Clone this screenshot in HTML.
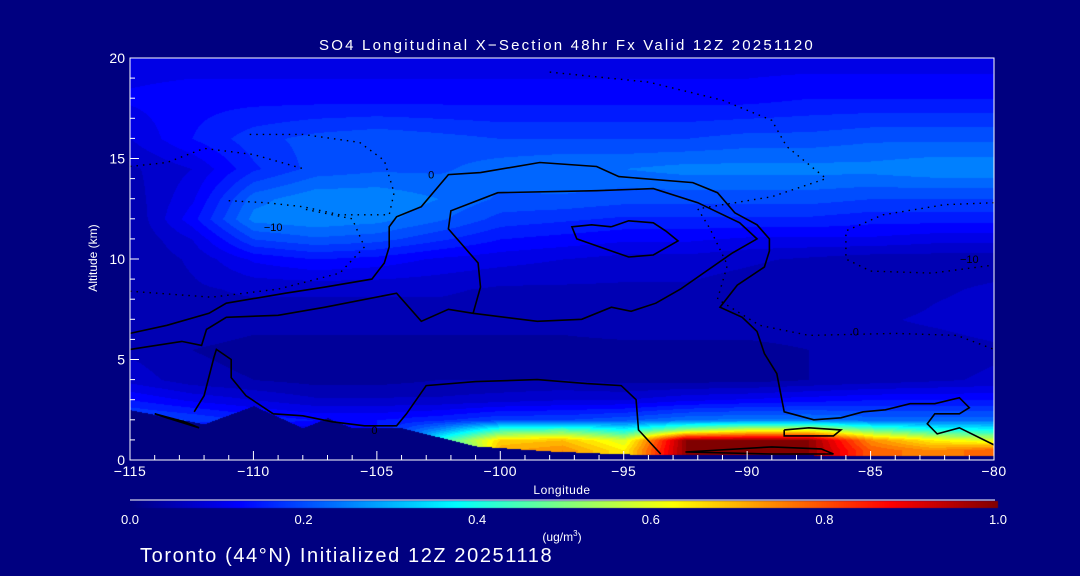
<!DOCTYPE html>
<html><head><meta charset="utf-8"><style>
html,body{margin:0;padding:0;background:#000080;}
#wrap{position:relative;width:1080px;height:576px;background:#000080;overflow:hidden;font-family:"Liberation Sans",sans-serif;color:#fff;}
canvas{position:absolute;left:0;top:0;}
svg{position:absolute;left:0;top:0;}
</style></head><body>
<div id="wrap">
<canvas id="heat" width="1080" height="576"></canvas>
<svg id="ov" width="1080" height="576"></svg>
</div>
<script>
// ---- data ----
const lons = [-115,-112.5,-110,-107.5,-105,-102.5,-100,-97.5,-95,-92.5,-90,-87.5,-85,-82.5,-80];
const alts = [0,0.5,1,1.5,2,3,4,5.5,7,8.5,10,11,12,13,14.5,16,18,20];
const r0   = [0,0,0,0,0,.30,.72,.75,.65,1.0,1.0,1.0,.80,.75,.80];
const r05  = [0,0,0,0,0,.30,.72,.75,.65,1.0,1.0,1.0,.80,.75,.80];
const r1   = [0,0,0,0,0,.42,.68,.70,.60,1.0,1.0,1.0,.75,.65,.60];
const r15  = [.10,.10,.10,.10,.15,.28,.45,.48,.40,.55,.62,.62,.50,.42,.40];
const r2   = [.22,.20,.17,.15,.15,.17,.20,.20,.22,.25,.26,.26,.24,.24,.24];
const r3   = [.15,.12,.10,.08,.08,.08,.09,.10,.10,.12,.13,.14,.15,.15,.15];
const r4   = [.09,.06,.05,.04,.04,.05,.05,.05,.04,.04,.04,.05,.06,.07,.08];
const r55  = [.07,.05,.04,.04,.04,.04,.04,.04,.04,.04,.04,.05,.06,.06,.07];
const r7   = [.07,.07,.06,.06,.06,.06,.06,.06,.07,.07,.07,.07,.07,.08,.09];
const r85  = [.06,.07,.08,.08,.08,.08,.07,.07,.07,.07,.06,.05,.05,.07,.08];
const r10  = [.05,.08,.13,.15,.14,.12,.11,.10,.09,.09,.08,.07,.06,.06,.06];
const r11  = [.05,.10,.20,.22,.21,.18,.15,.14,.13,.13,.12,.12,.12,.11,.11];
const r12  = [.05,.14,.26,.27,.26,.23,.19,.18,.17,.17,.17,.17,.16,.16,.16];
const r13  = [.06,.12,.24,.27,.27,.25,.22,.22,.21,.21,.21,.21,.20,.20,.20];
const r145 = [.07,.10,.17,.21,.22,.22,.24,.25,.25,.26,.26,.26,.26,.27,.27];
const r16  = [.10,.15,.19,.21,.22,.21,.20,.20,.20,.20,.21,.21,.22,.22,.22];
const r18  = [.13,.14,.14,.14,.14,.14,.14,.14,.14,.14,.14,.15,.15,.15,.15];
const r20  = [.11,.11,.11,.11,.11,.11,.11,.11,.11,.11,.11,.11,.11,.11,.11];
const grid = [r0,r05,r1,r15,r2,r3,r4,r55,r7,r85,r10,r11,r12,r13,r145,r16,r18,r20];
const terrainLon = [-115,-112,-110,-108,-107,-106,-105,-104,-103,-101,-98,-95,-80];
const terrainAlt = [2.5,1.8,2.7,1.6,2.1,1.6,1.6,1.6,1.3,0.7,0.45,0.3,0.2];
const xTickVals = [-115,-110,-105,-100,-95,-90,-85,-80];
const yTickVals = [0,5,10,15,20];
const cbarTicks = ["0.0","0.2","0.4","0.6","0.8","1.0"];
const contourA = [[-115,6.3],[-113.5,6.7],[-111.8,7.3],[-111.1,7.8],[-108.7,8.3],[-107.1,8.6],[-105.2,9.0],[-104.7,9.8],[-104.5,10.6],[-104.5,11.6],[-104.2,12.1],[-103.2,12.6],[-102.1,14.2],[-100.8,14.3],[-98.4,14.8],[-96.1,14.6],[-95.2,14.1],[-92.2,13.8],[-91.2,13.3],[-90.5,12.3],[-89.6,11.7],[-89.1,11.0],[-89.1,10.4],[-89.3,9.6],[-90.4,8.7],[-91.1,7.6],[-90.2,7.1],[-89.6,6.4],[-89.3,5.3],[-88.8,4.3],[-88.5,2.4],[-87.3,2.0],[-86.2,2.1],[-85.3,2.4],[-84.4,2.5],[-83.4,2.8],[-82.4,2.8],[-81.4,3.1],[-81.0,2.6],[-81.4,2.3],[-82.4,2.3],[-82.7,1.8],[-82.3,1.3],[-81.4,1.6],[-80,0.75]];
const contourB = [[-115,5.5],[-112.9,5.9],[-112.1,5.7],[-111.9,6.5],[-111.1,7.1],[-109.0,7.2],[-107.1,7.6],[-104.2,8.3],[-103.2,6.9],[-102.1,7.5],[-101.1,7.3],[-100.8,8.6],[-100.9,9.8],[-102.1,11.5],[-102.0,12.4],[-100.1,13.3],[-96.1,13.4],[-93.8,13.5],[-92.0,12.8],[-90.3,11.8],[-89.6,11.0],[-90.6,10.3],[-92.7,8.5],[-93.7,7.8],[-94.7,7.4],[-95.5,7.6],[-96.7,7.0],[-98.5,6.9],[-101.1,7.3]];
const contourC = [[-95.5,11.6],[-94.8,11.9],[-93.8,11.8],[-93.3,11.4],[-92.8,10.9],[-93.8,10.2],[-94.8,10.1],[-95.5,10.4],[-96.9,11.0],[-97.1,11.6],[-96.3,11.7],[-95.5,11.6]];
const contourD = [[-112.4,2.4],[-112,3.2],[-111.6,5.1],[-111.5,5.5],[-110.9,5.0],[-110.9,4.1],[-110.3,3.2],[-109.2,2.3],[-108,2.2],[-106.8,1.9],[-105.5,1.7],[-104.2,1.7],[-103.8,2.3],[-103.0,3.7],[-101,3.9],[-98.5,4.0],[-96.5,3.8],[-95.1,3.7],[-94.5,3.0],[-94.4,1.5],[-93.5,0.3]];
const contourE = [[-114,2.3],[-112.8,1.9],[-112.2,1.6],[-113.5,2.1],[-114,2.3]];
const contourF = [[-92.5,0.4],[-89,0.65],[-87,0.55],[-86.5,0.3],[-89,0.3],[-92.5,0.4]];
const contourG = [[-88.5,1.5],[-87.5,1.6],[-86.2,1.5],[-86.5,1.2],[-88.5,1.2],[-88.5,1.5]];
const dotted1 = [[-115,14.6],[-113.5,14.8],[-112,15.5],[-110,15.2],[-108,14.5]];
const dotted2 = [[-111,12.9],[-109.5,12.8],[-108,12.6],[-106.5,12.2],[-104.5,12.2],[-104.3,13.3],[-104.7,14.9],[-105.7,15.8],[-108,16.2],[-110.2,16.2]];
const dotted3 = [[-115,8.4],[-111.7,8.1],[-109,8.5],[-106.5,9.3],[-105.5,10.6],[-106,12.0],[-108,12.5]];
const dotted4 = [[-98,19.3],[-94,18.8],[-91,17.9],[-89,16.9],[-88.4,15.6],[-87.5,14.7],[-86.8,14.0],[-89,13.1],[-92,12.5],[-91.5,11.5],[-90.8,9.7],[-91.2,8.0],[-89.5,6.7],[-87.5,6.2],[-84,6.3],[-81.5,6.2],[-80,5.5]];
const dotted5 = [[-80,12.8],[-82,12.7],[-84.5,12.2],[-86,11.4],[-86,10.0],[-85,9.4],[-82.5,9.3],[-80,9.7]];

// ---- axes ----
const X0=130,X1=994,Y0=460,Y1=58;
const xs = l => X0 + (l+115)/35*(X1-X0);
const ys = a => Y0 - a/20*(Y0-Y1);
const lonOf = x => -115 + (x-X0)/(X1-X0)*35;
const altOf = y => (Y0-y)/(Y0-Y1)*20;
function jet(v){v=Math.max(0,Math.min(1,v));const c=t=>Math.round(255*Math.max(0,Math.min(1,1.5-Math.abs(t))));return [c(4*v-3),c(4*v-2),c(4*v-1)];}
function interp(arrX,arrY,x){for(let i=0;i<arrX.length-1;i++){if(x<=arrX[i+1]){const t=(x-arrX[i])/(arrX[i+1]-arrX[i]);return arrY[i]+t*(arrY[i+1]-arrY[i]);}}return arrY[arrY.length-1];}
function val(lon,alt){
  let i=0;while(i<lons.length-2&&lon>lons[i+1])i++;
  let j=0;while(j<alts.length-2&&alt>alts[j+1])j++;
  const tx=Math.max(0,Math.min(1,(lon-lons[i])/(lons[i+1]-lons[i])));
  const ty=Math.max(0,Math.min(1,(alt-alts[j])/(alts[j+1]-alts[j])));
  const a=grid[j][i]*(1-tx)+grid[j][i+1]*tx, b=grid[j+1][i]*(1-tx)+grid[j+1][i+1]*tx;
  return a*(1-ty)+b*ty;
}
const cv=document.getElementById('heat'),ctx=cv.getContext('2d');
ctx.fillStyle='#000080';ctx.fillRect(0,0,1080,576);
const img=ctx.getImageData(0,0,1080,576);
for(let y=Math.ceil(Y1);y<Y0;y++){for(let x=X0;x<X1;x++){
  const lon=lonOf(x),alt=altOf(y);
  const tAlt=interp(terrainLon,terrainAlt,lon);
  let rgb;
  if(alt<tAlt) rgb=[0,0,128];
  else {let v=val(lon,alt);v=Math.floor(v*40)/40;rgb=jet(v);}
  const k=(y*1080+x)*4;img.data[k]=rgb[0];img.data[k+1]=rgb[1];img.data[k+2]=rgb[2];img.data[k+3]=255;
}}
for(let y=501;y<508;y++)for(let x=130;x<998;x++){const rgb=jet((x-130)/868);const k=(y*1080+x)*4;img.data[k]=rgb[0];img.data[k+1]=rgb[1];img.data[k+2]=rgb[2];img.data[k+3]=255;}
ctx.putImageData(img,0,0);

const NS='http://www.w3.org/2000/svg',ov=document.getElementById('ov');
function mk(tag,attrs,name,parent){const e=document.createElementNS(NS,tag);for(const k in attrs)e.setAttribute(k,attrs[k]);


(parent||ov).appendChild(e);return e;}
function line(pts,name,dash,w){const d=pts.map((p,i)=>(i?'L':'M')+xs(p[0]).toFixed(1)+','+ys(p[1]).toFixed(1)).join('');
 const a={d:d,fill:'none',stroke:'#000','stroke-width':w||1.6};if(dash)a['stroke-dasharray']=dash;mk('path',a,name);}
line(contourA,'contour-zero-outer');line(contourB,'contour-zero-inner');line(contourC,'contour-zero-core');
line(contourD,'contour-zero-lower');line(contourE,'contour-zero-west');line(contourF,'contour-zero-surface');line(contourG,'contour-zero-surface-2');
[dotted1,dotted2,dotted3,dotted4,dotted5].forEach((c,i)=>line(c,'contour-minus10-'+(i+1),'1.5,5',1.4));
[[-102.8,14.2,'0'],[-109.2,11.6,'−10'],[-85.6,6.4,'0'],[-105.1,1.5,'0'],[-81,10,'−10']].forEach(l=>{const t=mk('text',{x:xs(l[0]),y:ys(l[1])+4,fill:'#000','font-size':11,'text-anchor':'middle'},'contour-label');t.textContent=l[2];});
mk('rect',{x:X0,y:Y1,width:X1-X0,height:Y0-Y1,fill:'none',stroke:'#fff','stroke-width':1},'plot-frame');
for(let l=-115;l<=-80;l++){const major=(l%5===0);mk('line',{x1:xs(l),x2:xs(l),y1:Y0,y2:Y0-(major?9:5),stroke:'#fff','stroke-width':1},'x-tick');}
xTickVals.forEach(v=>{const t=mk('text',{x:xs(v),y:476,fill:'#fff','font-size':14,'letter-spacing':'0.5','text-anchor':'middle'},'x-tick-label');t.textContent=String(v).replace('-','−');});
for(let a=0;a<=20;a++){const major=(a%5===0);mk('line',{x1:X0,x2:X0+(major?9:5),y1:ys(a),y2:ys(a),stroke:'#fff','stroke-width':1},'y-tick');}
yTickVals.forEach(v=>{const t=mk('text',{x:125,y:ys(v)+5,fill:'#fff','font-size':14,'text-anchor':'end'},'y-tick-label');t.textContent=v;});
let t=mk('text',{x:562,y:494,fill:'#fff','font-size':12,'letter-spacing':'0.5','text-anchor':'middle'},'x-axis-title');t.textContent='Longitude';
t=mk('text',{x:97,y:258,fill:'#fff','font-size':12,'text-anchor':'middle',transform:'rotate(-90 97 258)'},'y-axis-title');t.textContent='Altitude (km)';
t=mk('text',{x:567,y:50,fill:'#fff','font-size':15,'letter-spacing':'2.2','text-anchor':'middle'},'chart-title');t.textContent='SO4 Longitudinal X−Section 48hr  Fx Valid 12Z 20251120';
mk('line',{x1:130,x2:995,y1:500,y2:500,stroke:'#fff','stroke-width':1},'colorbar-line');
cbarTicks.forEach((s,i)=>{const tt=mk('text',{x:130+i*173.6,y:524,fill:'#fff','font-size':13,'text-anchor':'middle'},'colorbar-tick-label');tt.textContent=s;});
t=mk('text',{x:562,y:541,fill:'#fff','font-size':12,'text-anchor':'middle'},'colorbar-units');t.innerHTML='(ug/m<tspan dy="-5" font-size="8">3</tspan><tspan dy="5">)</tspan>';
t=mk('text',{x:140,y:562,fill:'#fff','font-size':20,'letter-spacing':'1.6'},'footer-caption');t.textContent='Toronto (44°N) Initialized 12Z 20251118';
</script>
</body></html>
